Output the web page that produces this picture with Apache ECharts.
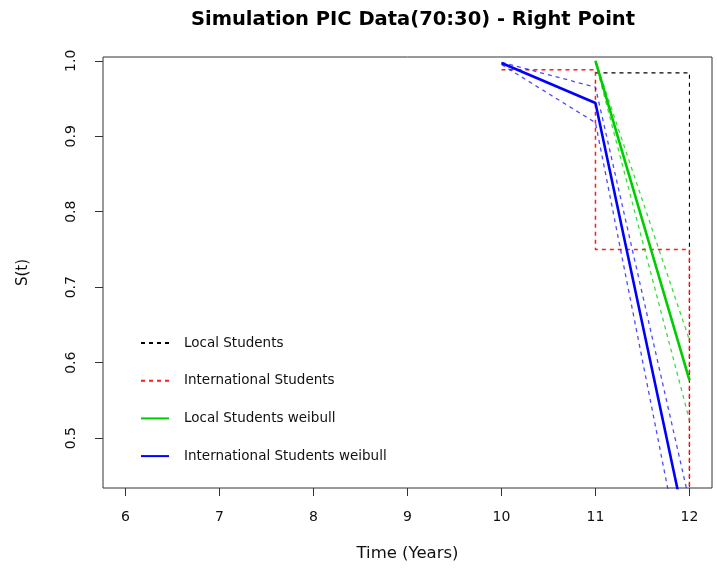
<!DOCTYPE html>
<html>
<head>
<meta charset="utf-8">
<script src="https://cdn.jsdelivr.net/npm/echarts@6/dist/echarts.min.js"></script>
<style>html,body{margin:0;padding:0;background:#fff;}#c{width:717px;height:570px;}</style>
</head>
<body>
<div id="c"></div>
<script>
const xTicks = [6, 7, 8, 9, 10, 11, 12];
const yTicks = [0.5, 0.6, 0.7, 0.8, 0.9, 1.0];

// Kaplan-Meier style step curves (dashed)
const localTime = [11, 12, 12];
const localSurv = [0.984, 0.984, 0.30];
const intlTime = [10, 11, 11, 12, 12];
const intlSurv = [0.988, 0.988, 0.75, 0.75, 0.30];

// Weibull fits with confidence bands
const localWbTime = [11, 12];
const localWb = [1.0, 0.577];
const localWbUpper = [1.0, 0.630];
const localWbLower = [0.998, 0.524];

const intlWbTime = [10, 11, 12];
const intlWb = [0.997, 0.944, 0.358];
const intlWbUpper = [0.998, 0.965, 0.416];
const intlWbLower = [0.995, 0.918, 0.288];

const legendNames = ['Local Students', 'International Students', 'Local Students weibull', 'International Students weibull'];

function pairs(t, s) { return t.map((v, i) => [v, s[i]]); }

const FONT = 'DejaVu Sans, Verdana, sans-serif';

function lineSeries(name, t, s, color, width, dash, z) {
  return {
    name: name, type: 'line', data: pairs(t, s), symbol: 'none', showSymbol: false, smooth: false,
    clip: true, z: z || 2,
    lineStyle: { color: color, width: width, type: dash || 'solid' },
    itemStyle: { color: color },
    emphasis: { disabled: true }, animation: false
  };
}

const chart = echarts.init(document.getElementById('c'), null, { renderer: 'canvas' });
chart.setOption({
  animation: false,
  backgroundColor: '#ffffff',
  title: {
    text: 'Simulation PIC Data(70:30) - Right Point',
    left: 408, top: 5, textAlign: 'center',
    textStyle: { fontFamily: FONT, fontSize: 19.5, fontWeight: 'bold', color: '#000' }
  },
  grid: { left: 103, right: 5, top: 57, bottom: 82, show: true, borderColor: '#333', borderWidth: 1, backgroundColor: 'transparent' },
  legend: {
    data: legendNames, orient: 'vertical', left: 135, top: 331,
    itemWidth: 28, itemHeight: 14, itemGap: 23.7,
    itemStyle: { opacity: 0 },
    textStyle: { fontFamily: FONT, fontSize: 13.5, color: '#111', padding: [0, 0, 0, 10] }
  },
  xAxis: {
    type: 'value', min: 5.76, max: 12.24,
    name: 'Time (Years)', nameLocation: 'middle', nameGap: 57,
    nameTextStyle: { fontFamily: FONT, fontSize: 16.5, color: '#111' },
    axisLine: { show: false },
    axisTick: { show: true, inside: false, length: 8, lineStyle: { color: '#333' }, customValues: xTicks },
    axisLabel: { fontFamily: FONT, fontSize: 14, color: '#111', margin: 22, customValues: xTicks },
    splitLine: { show: false }
  },
  yAxis: {
    type: 'value', min: 0.434, max: 1.005,
    name: 'S(t)', nameLocation: 'middle', nameGap: 72, nameRotate: 90,
    nameTextStyle: { fontFamily: FONT, fontSize: 15, color: '#111' },
    axisLine: { show: false },
    axisTick: { show: true, inside: false, length: 8, lineStyle: { color: '#333' }, customValues: yTicks },
    axisLabel: { fontFamily: FONT, fontSize: 14, color: '#111', margin: 25, rotate: 90, customValues: yTicks,
      formatter: v => v.toFixed(1) },
    splitLine: { show: false }
  },
  series: [
    lineSeries('Local Students', localTime, localSurv, '#000000', 1.1, [4, 4], 2),
    lineSeries('International Students', intlTime, intlSurv, '#ff1a1a', 1.5, [4, 4], 3),
    lineSeries('Local Students weibull', localWbTime, localWb, '#00cd00', 2.6, null, 5),
    lineSeries('Local upper', localWbTime, localWbUpper, 'rgba(0,205,0,0.75)', 1.3, [4, 4], 4),
    lineSeries('Local lower', localWbTime, localWbLower, 'rgba(0,205,0,0.75)', 1.3, [4, 4], 4),
    lineSeries('International Students weibull', intlWbTime, intlWb, '#0000ff', 2.6, null, 5),
    lineSeries('Intl upper', intlWbTime, intlWbUpper, 'rgba(0,0,255,0.7)', 1.3, [4, 4], 4),
    lineSeries('Intl lower', intlWbTime, intlWbLower, 'rgba(0,0,255,0.7)', 1.3, [4, 4], 4)
  ]
});
</script>
</body>
</html>
